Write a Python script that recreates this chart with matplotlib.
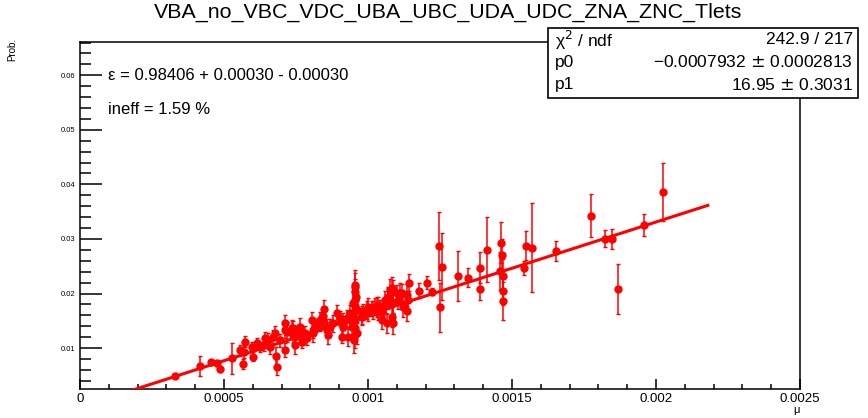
import matplotlib
matplotlib.use('Agg')
import matplotlib.pyplot as plt
from matplotlib.ticker import MultipleLocator, FuncFormatter
from matplotlib.patches import Rectangle
import numpy as np

# points: mu, probability, error
mu = [0.000330, 0.000417, 0.000455, 0.000475, 0.000486, 0.000529, 0.000556, 0.000566,
      0.000569, 0.000596, 0.000600, 0.000625, 0.000639, 0.000654, 0.000660, 0.000677,
      0.000681, 0.000685, 0.000712, 0.000712, 0.000713, 0.000718, 0.000737, 0.000739,
      0.000747, 0.000747, 0.000764, 0.000764, 0.000770, 0.000770, 0.000787, 0.000807,
      0.000808, 0.000818, 0.000833, 0.000843, 0.000845, 0.000848, 0.000857, 0.000862,
      0.000868, 0.000891, 0.000909, 0.000914, 0.000926, 0.000932, 0.000938, 0.000943,
      0.000949, 0.000949, 0.000951, 0.000955, 0.000955, 0.000955, 0.000955, 0.000955,
      0.000955, 0.000955, 0.000955, 0.000958, 0.000961, 0.000978, 0.000978, 0.000995,
      0.001001, 0.001013, 0.001024, 0.001030, 0.001036, 0.001048, 0.001049, 0.001053,
      0.001063, 0.001065, 0.001070, 0.001076, 0.001082, 0.001082, 0.001086, 0.001088,
      0.001088, 0.001100, 0.001117, 0.001134, 0.001136, 0.001142, 0.001178, 0.001205,
      0.001223, 0.001248, 0.001251, 0.001256, 0.001314, 0.001346, 0.001390, 0.001390,
      0.001414, 0.001458, 0.001463, 0.001466, 0.001469, 0.001469, 0.001470, 0.001542,
      0.001549, 0.001569, 0.001653, 0.001773, 0.001824, 0.001847, 0.001867, 0.001957,
      0.002025,
      0.000573, 0.000613, 0.000642, 0.000671, 0.000694, 0.000741, 0.000758, 0.000781,
      0.000810, 0.000833, 0.000857, 0.000880, 0.000903, 0.000914, 0.000938, 0.000961,
      0.000984, 0.001001, 0.001018, 0.001036, 0.001042, 0.001059, 0.001071, 0.001088,
      0.001105, 0.001111, 0.001123, 0.001140]
prob = [0.00492, 0.00670, 0.00738, 0.00719, 0.00615, 0.00811, 0.00963, 0.00706,
        0.00932, 0.01024, 0.00840, 0.01024, 0.01055, 0.01147, 0.01024, 0.01281,
        0.00853, 0.00657, 0.01453, 0.01330, 0.00963, 0.01299, 0.01362, 0.01373,
        0.01207, 0.01055, 0.01391, 0.01239, 0.01207, 0.01116, 0.01178, 0.01514,
        0.01270, 0.01422, 0.01514, 0.01587, 0.01514, 0.01710, 0.01330, 0.01239,
        0.01391, 0.01637, 0.01207, 0.01483, 0.01545, 0.01207, 0.01637, 0.01391,
        0.01820, 0.01637, 0.01147, 0.02156, 0.02125, 0.02033, 0.01881, 0.01771,
        0.01514, 0.01367, 0.01239, 0.01941, 0.01270, 0.01606, 0.01575, 0.01697,
        0.01637, 0.01729, 0.01758, 0.01758, 0.01666, 0.01514, 0.01661, 0.01729,
        0.01807, 0.01453, 0.01912, 0.02064, 0.02096, 0.01575, 0.01826, 0.02064,
        0.01453, 0.02004, 0.02016, 0.01685, 0.01973, 0.02198, 0.02052, 0.02198,
        0.02033, 0.02872, 0.01745, 0.02492, 0.02327, 0.02290, 0.02474, 0.02083,
        0.02804, 0.02413, 0.02932, 0.02707, 0.02046, 0.01857, 0.02327, 0.02462,
        0.02877, 0.02840, 0.02780, 0.03428, 0.03006, 0.03000, 0.02077, 0.03257,
        0.03857,
        0.01116, 0.01086, 0.01178, 0.01207, 0.01147, 0.01239, 0.01299, 0.01270,
        0.01330, 0.01453, 0.01391, 0.01453, 0.01545, 0.01391, 0.01514, 0.01697,
        0.01666, 0.01758, 0.01697, 0.01789, 0.01697, 0.01881, 0.01941, 0.01820,
        0.01881, 0.02004, 0.01758, 0.01881]
err = [0.0004, 0.0018, 0.0004, 0.0005, 0.0006, 0.0028, 0.0010, 0.0009,
       0.0011, 0.0008, 0.0008, 0.0009, 0.0011, 0.0013, 0.0013, 0.0013,
       0.0016, 0.0015, 0.0016, 0.0014, 0.0013, 0.0018, 0.0016, 0.0013,
       0.0014, 0.0016, 0.0016, 0.0013, 0.0012, 0.0012, 0.0012, 0.0014,
       0.0015, 0.0012, 0.0014, 0.0016, 0.0012, 0.0018, 0.0014, 0.0016,
       0.0015, 0.0016, 0.0012, 0.0016, 0.0015, 0.0016, 0.0016, 0.0019,
       0.0022, 0.0020, 0.0024, 0.0028, 0.0026, 0.0024, 0.0022, 0.0021,
       0.0020, 0.0022, 0.0024, 0.0024, 0.0019, 0.0017, 0.0016, 0.0016,
       0.0014, 0.0014, 0.0016, 0.0018, 0.0015, 0.0016, 0.0015, 0.0014,
       0.0016, 0.0017, 0.0019, 0.0020, 0.0020, 0.0018, 0.0020, 0.0018,
       0.0019, 0.0016, 0.0016, 0.0018, 0.0020, 0.0016, 0.0014, 0.0012,
       0.0006, 0.0062, 0.0045, 0.0061, 0.0046, 0.0017, 0.0028, 0.0020,
       0.0059, 0.0035, 0.0037, 0.0030, 0.0025, 0.0035, 0.0030, 0.0013,
       0.0026, 0.0081, 0.0018, 0.0040, 0.0015, 0.0019, 0.0046, 0.0020,
       0.0053,
       0.0010, 0.0010, 0.0012, 0.0013, 0.0012, 0.0014, 0.0013, 0.0014,
       0.0015, 0.0014, 0.0015, 0.0016, 0.0014, 0.0017, 0.0016, 0.0018,
       0.0015, 0.0016, 0.0017, 0.0015, 0.0018, 0.0016, 0.0017, 0.0018,
       0.0016, 0.0018, 0.0019, 0.0017]

# fit result from the stats box
p0 = -0.0007932
p1 = 16.95
fit_range = [0.00015, 0.00218]

narrow = ['Liberation Sans Narrow', 'Liberation Sans', 'DejaVu Sans']
plain = ['Liberation Sans', 'DejaVu Sans']

fig = plt.figure(figsize=(8.68, 4.18), dpi=100)
ax = fig.add_axes([80/868, 1-389/418, 720/868, 347/418])

ax.errorbar(mu, prob, yerr=err, fmt='o', color='red', ms=5, elinewidth=1.1,
            capsize=1.3, capthick=1.0, zorder=3)
fx = np.array(fit_range)
ax.plot(fx, p0 + p1*fx, color='red', lw=2.2, zorder=4)

ax.set_xlim(0, 0.0025)
ax.set_ylim(0.0025, 0.0661)

ax.xaxis.set_major_locator(MultipleLocator(0.0005))
ax.xaxis.set_minor_locator(MultipleLocator(0.0001))
ax.yaxis.set_major_locator(MultipleLocator(0.01))
ax.yaxis.set_minor_locator(MultipleLocator(0.002))
fmt = FuncFormatter(lambda v, p: '%g' % round(v, 6))
ax.xaxis.set_major_formatter(fmt)
ax.yaxis.set_major_formatter(fmt)

ax.tick_params(axis='both', which='both', direction='in', top=False, right=False, width=1.1)
ax.tick_params(axis='x', which='major', length=7, labelsize=9.5, pad=3)
ax.tick_params(axis='x', which='minor', length=3.6)
ax.tick_params(axis='y', which='major', length=16, labelsize=5.5, pad=3)
ax.tick_params(axis='y', which='minor', length=8)
for lab in ax.get_xticklabels() + ax.get_yticklabels():
    lab.set_family(plain)
for s in ax.spines.values():
    s.set_linewidth(1.1)

fig.text(448/868, 1-12/418, 'VBA_no_VBC_VDC_UBA_UBC_UDA_UDC_ZNA_ZNC_Tlets',
         ha='center', va='center', fontsize=15.4, family=narrow)
fig.text(12/868, 1-38/418, 'Prob.', rotation=90, ha='center', va='top',
         fontsize=7, family=plain)
fig.text(796/868, 1-410/418, 'μ', ha='center', va='center', fontsize=8, family=plain)

fig.text(108/868, 1-75/418, 'ε = 0.98406 + 0.00030 - 0.00030', ha='left', va='center',
         fontsize=12, family=plain)
fig.text(108/868, 1-110/418, 'ineff = 1.59 %', ha='left', va='center',
         fontsize=12, family=plain)

# stats box
box = Rectangle((548/868, 1-98/418), 310/868, 70/418, transform=fig.transFigure,
                facecolor='white', edgecolor='black', lw=1.2, zorder=10)
fig.add_artist(box)
rows = [('χ$^2$ / ndf', '242.9 / 217'),
        ('p0', '\u22120.0007932 $\\pm$ 0.0002813'),
        ('p1', '16.95 $\\pm$ 0.3031')]
ys = [40, 62, 85]
for (l, r), yy in zip(rows, ys):
    fig.text(555/868, 1-yy/418, l, ha='left', va='center', fontsize=12.5,
             family=narrow, zorder=11)
    fig.text(853/868, 1-yy/418, r, ha='right', va='center', fontsize=12.5,
             family=narrow, zorder=11)

fig.savefig('out.png', dpi=100)
